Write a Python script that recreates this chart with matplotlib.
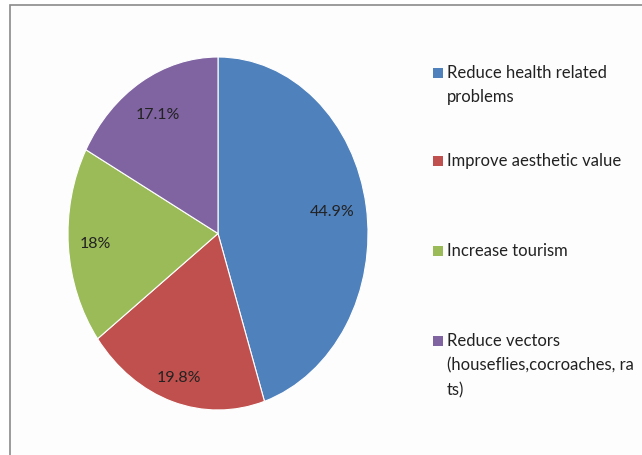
import matplotlib
matplotlib.use("Agg")
import matplotlib.pyplot as plt
from matplotlib.patches import Rectangle
import numpy as np

categories = ["Reduce health related\nproblems", "Improve aesthetic value",
              "Increase tourism", "Reduce vectors\n(houseflies,cocroaches, ra\nts)"]
values = [44.9, 19.8, 18.0, 17.1]
pct_labels = ["44.9%", "19.8%", "18%", "17.1%"]
colors = ["#4F81BD", "#C0504D", "#9BBB59", "#8064A2"]

plt.rcParams['font.family'] = ['Lato', 'DejaVu Sans']
W, H = 642, 455
fig = plt.figure(figsize=(W/100, H/100), dpi=100)
fig.patch.set_facecolor("white")

# frame
fig.patches.append(Rectangle((10/W, -0.1), 1, (H-5)/H + 0.1, transform=fig.transFigure,
                             facecolor="#fdfdfd", edgecolor="#8a8a8a", lw=1.2, zorder=0))

ax = fig.add_axes([68/W, 45/H, 300/W, 353/H])
ax.set_zorder(3)
ax.set_facecolor("none")
wedges, texts = ax.pie(values, colors=colors, startangle=90, counterclock=False,
                       wedgeprops=dict(edgecolor="white", linewidth=0.8))
ax.set_aspect("auto")
ax.set_xlim(-1, 1)
ax.set_ylim(-1, 1)
ax.axis("off")

total = sum(values)
ang = 90.0
radii = [0.77, 0.86, 0.82, 0.78]
for v, lab, r in zip(values, pct_labels, radii):
    mid = ang - v / total * 360 / 2
    ang -= v / total * 360
    ax.text(r * np.cos(np.radians(mid)), r * np.sin(np.radians(mid)), lab,
            ha="center", va="center", fontsize=11.5, color="#222222")

tops = [65, 153, 243, 333]
for cat, col, t in zip(categories, colors, tops):
    fig.patches.append(Rectangle((433/W, 1 - (t + 13) / H), 10/W, 10/H,
                                 transform=fig.transFigure, facecolor=col, edgecolor="none",
                                 zorder=2))
    fig.text(447/W, 1 - t / H, cat, ha="left", va="top", fontsize=12,
             color="#222222", linespacing=1.65, zorder=4)

fig.savefig("out.png", dpi=100)
